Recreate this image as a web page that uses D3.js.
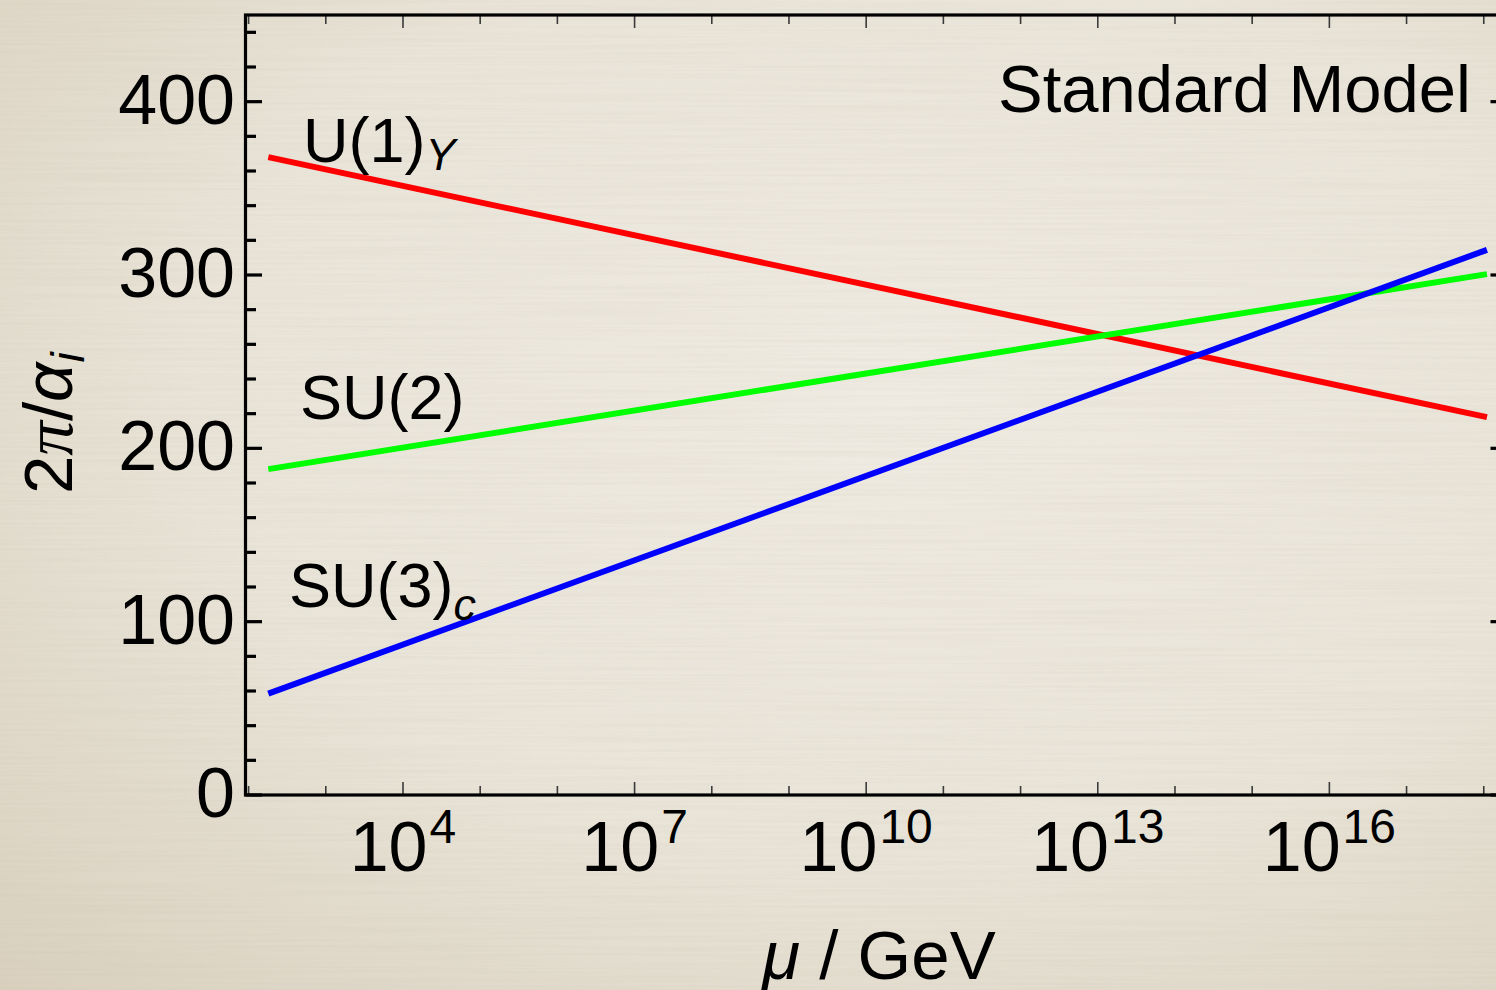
<!DOCTYPE html>
<html>
<head>
<meta charset="utf-8">
<script src="https://cdn.jsdelivr.net/npm/d3@7"></script>
<style>
  html, body { margin: 0; padding: 0; overflow: hidden; background: #e6e0d2; }
  svg { display: block; }
</style>
</head>
<body>
<svg id="chart" width="1496" height="990"></svg>
<script>
// Renormalisation scale range covered by the running curves (GeV)
const muValues = [180, 1.1e18];
// Inverse gauge couplings 2π/α_i at the two ends of the range
const u1Values = [368, 218];
const su2Values = [188, 300.5];
const su3Values = [58.5, 314.5];

const seriesNames = ["U(1)", "SU(2)", "SU(3)"];
const seriesSubscripts = ["Y", "", "c"];
const seriesColors = ["#ff0000", "#00ff00", "#0000ff"];

// Axis extents and ticks
const xDomain = [91.19, 2.0e18];
const yDomain = [0, 450];
const xMajorExponents = [4, 7, 10, 13, 16];
const xMinorExponents = [2, 3, 5, 6, 8, 9, 11, 12, 14, 15, 17, 18];
const yMajorTicks = [0, 100, 200, 300, 400];
const yMinorTicks = d3.range(20, 450, 20).filter(v => v % 100 !== 0);

const W = 1496, H = 990;
const frameL = 245.5, frameR = 1507, frameT = 15, frameB = 795;

const svg = d3.select("#chart");

// Paper background with vignette and streaky grain
const defs = svg.append("defs");
const rg = defs.append("radialGradient").attr("id", "paper")
  .attr("cx", "0.6").attr("cy", "0.4").attr("r", "0.85");
rg.append("stop").attr("offset", "0").attr("stop-color", "#efebe2");
rg.append("stop").attr("offset", "0.55").attr("stop-color", "#e9e4d8");
rg.append("stop").attr("offset", "1").attr("stop-color", "#d9d0be");
const grain = defs.append("filter").attr("id", "grain")
  .attr("x", 0).attr("y", 0).attr("width", 1).attr("height", 1);
grain.append("feTurbulence").attr("type", "fractalNoise")
  .attr("baseFrequency", "0.004 0.35").attr("numOctaves", 2).attr("seed", 7);
grain.append("feColorMatrix").attr("type", "matrix")
  .attr("values", "0 0 0 0 0.5  0 0 0 0 0.45  0 0 0 0 0.35  0 0 0 0.7 -0.25");

svg.append("rect").attr("width", W).attr("height", H).attr("fill", "url(#paper)");
svg.append("rect").attr("width", W).attr("height", H)
  .attr("filter", "url(#grain)").attr("opacity", 0.3);

const x = d3.scaleLog().domain(xDomain).range([frameL, frameR]);
const y = d3.scaleLinear().domain(yDomain).range([frameB, frameT]);

const plot = svg.append("g");

// Running coupling lines
const seriesValues = [u1Values, su2Values, su3Values];
const line = d3.line().x(d => x(d[0])).y(d => y(d[1]));
seriesValues.forEach((vals, i) => {
  plot.append("path")
    .datum(muValues.map((m, k) => [m, vals[k]]))
    .attr("d", line)
    .attr("fill", "none")
    .attr("stroke", seriesColors[i])
    .attr("stroke-width", 6)
    .attr("stroke-linecap", "butt");
});

// x ticks (bottom and top), thin
const xt = svg.append("g").attr("stroke", "#3a3a3a").attr("stroke-width", 1.6);
const addXTicks = (exps, len) => {
  exps.forEach(e => {
    const px = x(Math.pow(10, e));
    xt.append("line").attr("x1", px).attr("x2", px).attr("y1", frameB).attr("y2", frameB - len);
    xt.append("line").attr("x1", px).attr("x2", px).attr("y1", frameT).attr("y2", frameT + len);
  });
};
addXTicks(xMajorExponents, 13);
addXTicks(xMinorExponents, 9);

// y ticks (left and right), heavy
const yt = svg.append("g").attr("stroke", "#000").attr("stroke-width", 3.2);
const addYTicks = (vals, len) => {
  vals.forEach(v => {
    const py = y(v);
    yt.append("line").attr("x1", frameL).attr("x2", frameL + len).attr("y1", py).attr("y2", py);
    yt.append("line").attr("x1", frameR).attr("x2", frameR - len).attr("y1", py).attr("y2", py);
  });
};
addYTicks(yMajorTicks, 16.5);
addYTicks(yMinorTicks, 10.5);

// Frame
svg.append("rect")
  .attr("x", frameL).attr("y", frameT)
  .attr("width", frameR - frameL).attr("height", frameB - frameT)
  .attr("fill", "none").attr("stroke", "#000").attr("stroke-width", 3.2);

const font = "'Liberation Sans', Arial, Helvetica, sans-serif";

// y tick labels
svg.append("g").selectAll("text").data(yMajorTicks).join("text")
  .attr("x", 235).attr("y", d => y(d) - 3)
  .attr("dy", "0.355em")
  .attr("text-anchor", "end")
  .attr("font-family", font).attr("font-size", 70).attr("fill", "#000")
  .text(d => d);

// x tick labels 10^n
xMajorExponents.forEach(e => {
  const t = svg.append("text")
    .attr("x", x(Math.pow(10, e))).attr("y", 871)
    .attr("text-anchor", "middle")
    .attr("font-family", font).attr("font-size", 70).attr("fill", "#000");
  t.append("tspan").text("10");
  t.append("tspan").attr("dx", 2).attr("dy", -28).attr("font-size", 48).text(e);
});

// Axis titles
const xTitle = svg.append("text")
  .attr("x", 879).attr("y", 979)
  .attr("text-anchor", "middle")
  .attr("font-family", font).attr("font-size", 69).attr("fill", "#000");
xTitle.append("tspan").attr("font-style", "italic").text("μ");
xTitle.append("tspan").text(" / GeV");

const yTitle = svg.append("text")
  .attr("transform", "translate(72,494) rotate(-90)")
  .attr("text-anchor", "start")
  .attr("font-family", font).attr("font-size", 69).attr("fill", "#000");
yTitle.append("tspan").text("2");
yTitle.append("tspan").attr("font-family", "'Liberation Serif', 'Times New Roman', serif")
  .attr("font-style", "italic").text("π");
yTitle.append("tspan").text("/");
yTitle.append("tspan").attr("font-style", "italic").text("α");
yTitle.append("tspan").attr("font-style", "italic").attr("font-size", 46).attr("dy", 12).text("i");

// Title inside the frame
svg.append("text")
  .attr("x", 1471).attr("y", 112)
  .attr("text-anchor", "end")
  .attr("font-family", font).attr("font-size", 67).attr("fill", "#000")
  .text("Standard Model");

// Series labels
const labelPos = [[303, 162], [300, 419], [289, 607]];
seriesNames.forEach((name, i) => {
  const t = svg.append("text")
    .attr("x", labelPos[i][0]).attr("y", labelPos[i][1])
    .attr("font-family", font).attr("font-size", 63).attr("fill", "#000");
  t.append("tspan").text(name);
  if (seriesSubscripts[i]) {
    t.append("tspan").attr("font-style", "italic").attr("font-size", 45)
      .attr("dy", i === 0 ? 8 : 13).text(seriesSubscripts[i]);
  }
});
</script>
</body>
</html>
